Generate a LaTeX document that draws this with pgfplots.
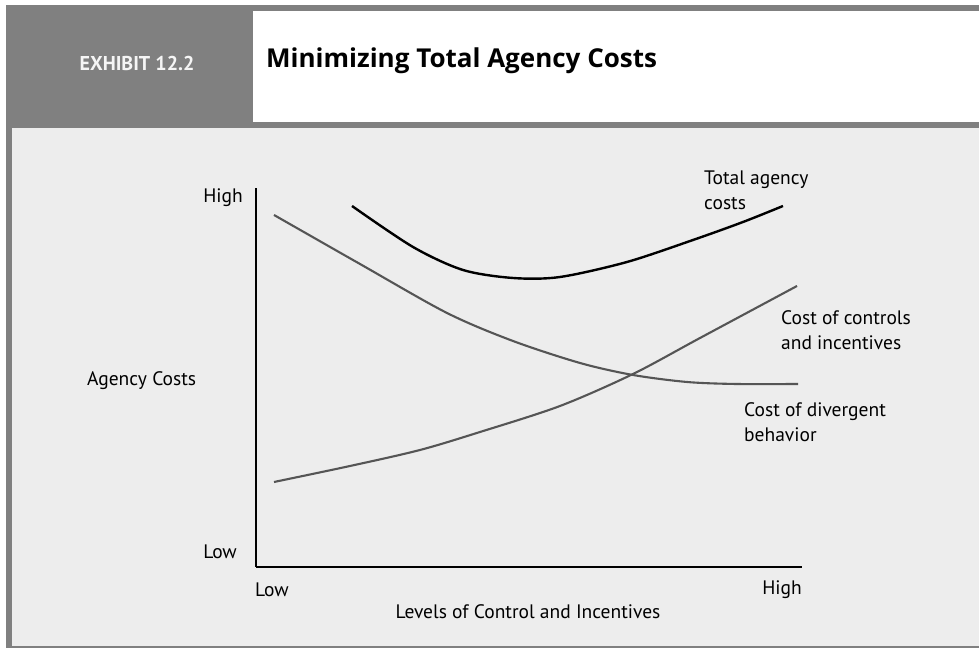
\documentclass[border=0pt]{standalone}
\usepackage{fontspec}
\setmainfont{PT Sans}
\newfontfamily\titlefont{Open Sans}
\usepackage{pgfplots}
\pgfplotsset{compat=1.18}
\definecolor{framegray}{HTML}{808080}
\definecolor{panelgray}{HTML}{EDEDED}
\definecolor{curvegray}{HTML}{555555}

\begin{document}
\begin{tikzpicture}
\begin{scope}[x=1bp,y=1bp]
  % frame and header
  \fill[white] (0,0) rectangle (979,648);
  \fill[framegray] (6,0) rectangle (979,643);
  \fill[panelgray] (12,2) rectangle (979,520);
  \fill[white] (253,526) rectangle (979,637);
  \node[text=white!96!black, font=\fontsize{20bp}{24bp}\selectfont\bfseries] at (137,585) {EXHIBIT 12.2};
  \node[anchor=west, inner sep=0pt, font=\titlefont\fontsize{26bp}{30bp}\selectfont\bfseries] at (266,587) {Minimizing Total Agency Costs};
  % axis labels
  \begin{scope}[every node/.style={inner sep=0pt, font=\fontsize{19.5bp}{25bp}\selectfont}]
    \node[anchor=east] at (243,450) {High};
    \node[anchor=east] at (237,96) {Low};
    \node[anchor=west] at (87,267) {Agency Costs};
    \node[anchor=west] at (255,58) {Low};
    \node[anchor=east] at (802,58) {High};
    \node at (528,36) {Levels of Control and Incentives};
    \node[anchor=west, align=left] at (704,458) {Total agency\\costs};
    \node[anchor=west, align=left] at (781,318) {Cost of controls\\and incentives};
    \node[anchor=west, align=left] at (744,226) {Cost of divergent\\behavior};
  \end{scope}
\end{scope}
\begin{axis}[
    at={(256bp,81bp)}, anchor=south west,
    scale only axis, width=546bp, height=379bp,
    xmin=0, xmax=546, ymin=0, ymax=379,
    axis x line*=bottom, axis y line*=left,
    axis line style={-, line width=2.4bp, black},
    ticks=none, clip=false
]
% cost of divergent behavior
\addplot[curvegray, line width=2.1bp, smooth] coordinates {
    (18,352) (104,303) (191,254) (257,226) (324,204) (377,192) (431,185) (480,183) (542,183)
};
% cost of controls and incentives
\addplot[curvegray, line width=2.1bp, smooth] coordinates {
    (18,85) (94,101) (164,117) (224,135) (304,161) (377,193) (444,229) (541,281)
};
% total agency costs
\addplot[black, line width=2.4bp, smooth] coordinates {
    (96,361) (157,320) (207,297) (257,289) (304,290) (371,305) (437,327) (487,345) (527,361)
};
\end{axis}
\end{tikzpicture}
\end{document}
